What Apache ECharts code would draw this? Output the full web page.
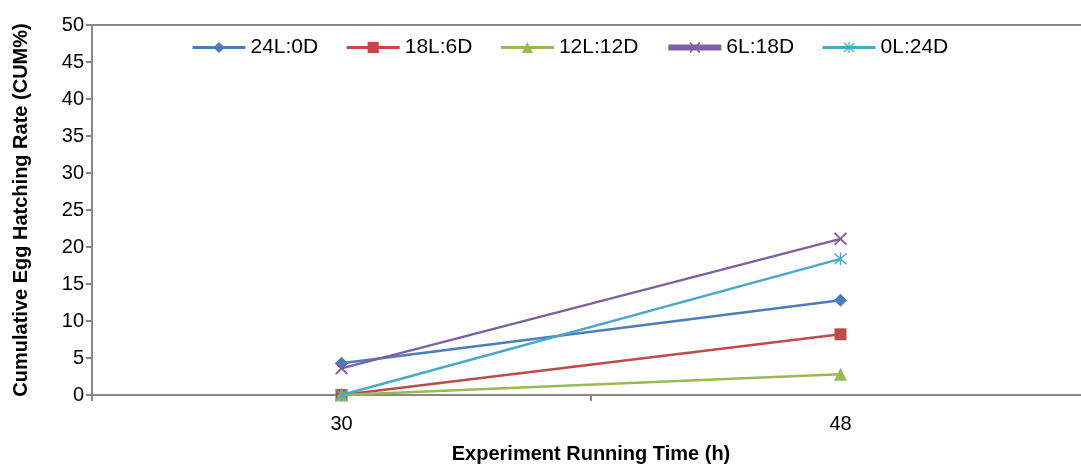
<!DOCTYPE html>
<html>
<head>
<meta charset="utf-8">
<script src="https://cdn.jsdelivr.net/npm/echarts@6/dist/echarts.min.js"></script>
<style>html,body{margin:0;padding:0;background:#fff;overflow:hidden;}#c{width:1081px;height:466px;}</style>
</head>
<body>
<div id="c"></div>
<script>
const categories = ['30', '48'];
const seriesNames = ['24L:0D', '18L:6D', '12L:12D', '6L:18D', '0L:24D'];
const s24L0D = [4.3, 12.8];
const s18L6D = [0, 8.2];
const s12L12D = [0, 2.8];
const s6L18D = [3.6, 21.1];
const s0L24D = [0, 18.4];
const yTicks = { min: 0, max: 50, interval: 5 };

const colors = ['#4A7EBB', '#BE4B48', '#98B954', '#7D60A0', '#46AAC5'];
const xPath = 'path://M2,0 L10,8 L18,0 L20,2 L12,10 L20,18 L18,20 L10,12 L2,20 L0,18 L8,10 L0,2 Z';
const starPath = 'path://M2,1 L10,9 L18,1 L19.5,2.5 L11.5,10.5 L19.5,18.5 L18,20 L10,12 L2,20 L0.5,18.5 L8.5,10.5 L0.5,2.5 Z M9,0 L11,0 L11,21 L9,21 Z';
const symbols = ['diamond', 'rect', 'triangle', xPath, starPath];
const symbolSizes = [13, 12, 13, 13, 13];
const dataSets = [s24L0D, s18L6D, s12L12D, s6L18D, s0L24D];

const chart = echarts.init(document.getElementById('c'));
chart.setOption({
  animation: false,
  grid: { left: 92, right: -9, top: 25, bottom: 71, outerBoundsMode: 'none', containLabel: false, show: true, borderColor: '#888', borderWidth: 2, backgroundColor: 'transparent' },
  legend: {
    left: 191, top: 37, padding: 0,
    itemWidth: 53, itemHeight: 14, itemGap: 27,
    textStyle: { fontFamily: 'Liberation Sans, Arial', fontSize: 21, color: '#000' },
    data: seriesNames.map((n, i) => ({ name: n, lineStyle: { width: i === 3 ? 6 : 3 } }))
  },
  xAxis: {
    type: 'category', data: categories, boundaryGap: true,
    name: 'Experiment Running Time (h)', nameLocation: 'middle', nameGap: 49,
    nameTextStyle: { fontFamily: 'Liberation Sans, Arial', fontSize: 20, fontWeight: 'bold', color: '#000' },
    axisLine: { lineStyle: { color: '#888', width: 2 } },
    axisTick: { show: true, length: 6, lineStyle: { color: '#888', width: 2 } },
    axisLabel: { fontFamily: 'Liberation Sans, Arial', fontSize: 20, color: '#000', margin: 19 }
  },
  yAxis: {
    type: 'value', min: yTicks.min, max: yTicks.max, interval: yTicks.interval,
    name: 'Cumulative Egg Hatching Rate (CUM%)', nameLocation: 'middle', nameGap: 61, nameRotate: 90,
    nameTextStyle: { fontFamily: 'Liberation Sans, Arial', fontSize: 20, fontWeight: 'bold', color: '#000' },
    axisLine: { show: true, lineStyle: { color: '#888', width: 2 } },
    axisTick: { show: true, length: 6, lineStyle: { color: '#888', width: 2 } },
    splitLine: { show: false },
    axisLabel: { fontFamily: 'Liberation Sans, Arial', fontSize: 20, color: '#000', margin: 8 }
  },
  series: seriesNames.map((n, i) => ({
    name: n, type: 'line', data: dataSets[i],
    symbol: symbols[i], symbolSize: symbolSizes[i], showSymbol: true,
    itemStyle: { color: colors[i] },
    lineStyle: { color: colors[i], width: 2.5 },
    z: 2 + i
  }))
});
</script>
</body>
</html>
